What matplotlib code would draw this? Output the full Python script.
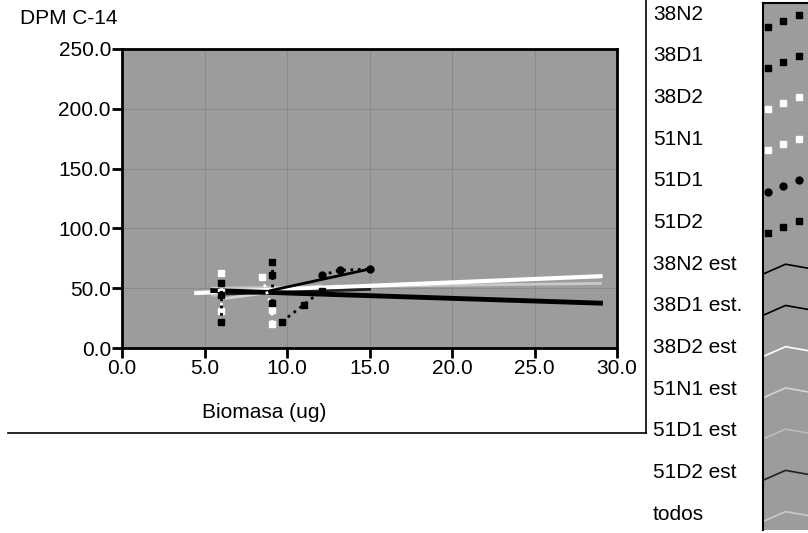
import numpy as np
import matplotlib.pyplot as plt
from matplotlib.lines import Line2D

plt.rcParams['font.family'] = ['Liberation Sans', 'DejaVu Sans']

# replicate measurements: biomass (ug) and DPM C-14 per sample
x_38N2 = [9.1, 9.1, 9.1]
y_38N2 = [72, 61, 38]
x_38D1 = [6.0, 6.0, 6.0]
y_38D1 = [54, 44, 22]
x_38D2 = [6.0, 6.0, 6.0]
y_38D2 = [63, 47, 31]
x_51N1 = [8.5, 9.1, 9.1]
y_51N1 = [59, 32, 20]
x_51D1 = [12.1, 13.2, 15.0]
y_51D1 = [61, 65, 66]
x_51D2 = [9.7, 11.0, 12.1]
y_51D2 = [22, 36, 48]

# fitted lines (est) and the fit over all samples
xe_38N2 = [9.0, 15.0]
ye_38N2 = [48, 66]
xe_38D1 = [5.5, 29.0]
ye_38D1 = [48, 37.5]
xe_38D2 = [4.5, 29.0]
ye_38D2 = [46, 60]
xe_51N1 = [6.0, 12.0]
ye_51N1 = [41, 52]
xe_51D1 = [5.5, 13.2]
ye_51D1 = [44, 52]
xe_51D2 = [6.0, 15.0]
ye_51D2 = [45, 49]
xe_todos = [5.5, 29.0]
ye_todos = [50, 54]

names = ["38N2", "38D1", "38D2", "51N1", "51D1", "51D2",
         "38N2 est", "38D1 est.", "38D2 est", "51N1 est", "51D1 est",
         "51D2 est", "todos"]

bg = "#9c9c9c"
fs = 15

fig = plt.figure(figsize=(8.08, 5.33), dpi=100)
ax = fig.add_axes([122/808, 1-348/533, 495/808, 299/533])
ax.set_facecolor(bg)

# est lines
ax.plot(xe_todos, ye_todos, color="#c8c8c8", lw=2)
ax.plot(xe_51N1, ye_51N1, color="#d4d4d4", lw=2)
ax.plot(xe_51D1, ye_51D1, color="#bdbdbd", lw=2)
ax.plot(xe_38D2, ye_38D2, color="white", lw=3)
ax.plot(xe_51D2, ye_51D2, color="#202020", lw=2)
ax.plot(xe_38D1, ye_38D1, color="black", lw=3.5)
ax.plot(xe_38N2, ye_38N2, color="black", lw=2)

# samples
ms = 5
ax.plot(x_38D2, y_38D2, ls=":", color="white", marker="s", ms=ms, lw=2)
ax.plot(x_51N1, y_51N1, ls=":", color="white", marker="s", ms=ms, lw=2)
ax.plot(x_38N2, y_38N2, ls=":", color="black", marker="s", ms=ms, lw=2)
ax.plot(x_38D1, y_38D1, ls=":", color="black", marker="s", ms=ms, lw=2)
ax.plot(x_51D1, y_51D1, ls=":", color="black", marker="o", ms=ms, lw=2)
ax.plot(x_51D2, y_51D2, ls=":", color="black", marker="s", ms=ms, lw=2)

ax.set_xlim(0, 30)
ax.set_ylim(0, 250)
ax.set_xticks(np.arange(0, 31, 5))
ax.set_yticks(np.arange(0, 251, 50))
ax.set_xticklabels([f"{v:.1f}" for v in np.arange(0, 31, 5)])
ax.set_yticklabels([f"{v:.1f}" for v in np.arange(0, 251, 50)])
ax.tick_params(axis="both", direction="out", length=7, width=2, labelsize=fs, pad=1)
ax.grid(color="#8a8a8a", lw=0.8)
ax.set_axisbelow(True)
for s in ax.spines.values():
    s.set_linewidth(2)

fig.text(20/808, 1-18/533, "DPM C-14", fontsize=fs, va="center", ha="left")
fig.text(264/808, 1-412/533, "Biomasa (ug)", fontsize=fs, va="center", ha="center")

# frame lines around the graph panel
fig.add_artist(Line2D([8/808, 646/808], [1-433/533, 1-433/533], color="black", lw=1.2))
fig.add_artist(Line2D([646/808, 646/808], [1-433/533, 1.0], color="black", lw=1.2))

# legend names
for i, name in enumerate(names):
    fig.text(653/808, 1-(14 + 41.7*i)/533, name, fontsize=fs, va="center", ha="left")

# legend swatches
sw = fig.add_axes([763/808, 3/533, 45/808, 527/533])
sw.set_facecolor(bg)
sw.set_xlim(0, 1)
sw.set_ylim(533, 0)
sw.set_xticks([])
sw.set_yticks([])
for k in ["right", "bottom"]:
    sw.spines[k].set_visible(False)
sw.spines["left"].set_linewidth(1.5)
sw.spines["top"].set_linewidth(1.5)
styles = [("black", "s"), ("black", "s"), ("white", "s"), ("white", "s"),
          ("black", "o"), ("black", "s")]
for i, (c, m) in enumerate(styles):
    yc = 14 + 41.7*i
    sw.plot([0.1, 0.45, 0.8], [yc+10, yc+4, yc-2], ls="", marker=m, color=c, ms=5)
est_colors = ["black", "black", "white", "#d4d4d4", "#bdbdbd", "#202020", "#c8c8c8"]
for j, c in enumerate(est_colors):
    yc = 14 + 41.7*(6 + j)
    sw.plot([0.0, 0.5, 1.0], [yc+10, yc, yc+4], color=c, lw=1.2)

fig.savefig("out.png", dpi=100)
